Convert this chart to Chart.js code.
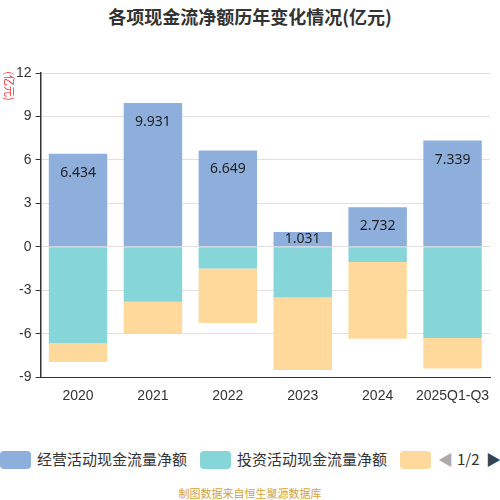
<!DOCTYPE html>
<html><head><meta charset="utf-8">
<script src="https://cdn.jsdelivr.net/npm/chart.js@4"></script>
<style>
body{margin:0;width:500px;height:500px;background:#fff;font-family:"Noto Sans CJK SC","Noto Sans",sans-serif;position:relative;overflow:hidden}
#wrap{position:absolute;left:0;top:0;width:500px;height:408px}
#title{position:absolute;top:3px;width:500px;text-align:center;font-size:18px;font-weight:bold;color:#333}
#legend{position:absolute;top:449px;left:0;width:500px;height:22px;font-size:15px;color:#333}
.sw{position:absolute;top:2px;width:31px;height:18px;border-radius:4px}
.lt{position:absolute;top:-1px;white-space:nowrap}
#src{position:absolute;top:485px;width:500px;text-align:center;font-size:11px;color:#d4a23a}
</style></head><body>
<div id="title">各项现金流净额历年变化情况(亿元)</div>
<div id="wrap"><canvas id="c" width="500" height="408"></canvas></div>
<div id="legend">
<div class="sw" style="left:0;background:#8eaedc"></div><div class="lt" style="left:37px">经营活动现金流量净额</div>
<div class="sw" style="left:200px;background:#86d5d8"></div><div class="lt" style="left:237px">投资活动现金流量净额</div>
<div class="sw" style="left:400px;background:#fed99b"></div>
<div class="lt" style="left:438px;color:#aaa">◀</div><div class="lt" style="left:457px">1/2</div><div class="lt" style="left:486px;color:#2f4554">▶</div>
</div>
<div id="src">制图数据来自恒生聚源数据库</div>
<script>
const categories=["2020","2021","2022","2023","2024","2025Q1-Q3"];
const operating=[6.434,9.931,6.649,1.031,2.732,7.339];
const investing=[-6.65,-3.8,-1.5,-3.5,-1.05,-6.3];
const financing=[-1.3,-2.2,-3.75,-5.0,-5.3,-2.1];
const yTicks=[-9,-6,-3,0,3,6,9,12];

const labelPlugin={id:'lbl',afterDatasetsDraw(ch){
  const ctx=ch.ctx;const meta=ch.getDatasetMeta(0);
  ctx.save();ctx.font='14px "Noto Sans","DejaVu Sans",sans-serif';ctx.fillStyle='#222';ctx.textAlign='center';ctx.textBaseline='middle';
  meta.data.forEach((b,i)=>{const top=b.y,base=b.base;const y=Math.min(top+19,(top+base)/2);ctx.fillText(operating[i].toFixed(3),b.x,y);});
  ctx.translate(9,86);ctx.rotate(Math.PI/2);ctx.fillStyle='#e33';ctx.font='11px "Noto Sans CJK SC",sans-serif';ctx.fillText('(亿元)',0,0);
  ctx.restore();
}};
new Chart(document.getElementById('c'),{
  type:'bar',
  data:{labels:categories,datasets:[
    {data:operating,backgroundColor:'#8eaedc',stack:'s'},
    {data:investing,backgroundColor:'#86d5d8',stack:'s'},
    {data:financing,backgroundColor:'#fed99b',stack:'s'}]},
  options:{responsive:false,animation:false,
    layout:{padding:{left:12,right:10,top:73,bottom:0}},
    datasets:{bar:{barPercentage:0.78,categoryPercentage:1}},
    plugins:{legend:{display:false},tooltip:{enabled:false}},
    scales:{
      x:{stacked:true,grid:{display:false},border:{color:'#333'},ticks:{color:'#333',font:{size:14},maxRotation:0,autoSkip:false}},
      y:{stacked:true,min:-9,max:12,afterBuildTicks(a){a.ticks=yTicks.map(v=>({value:v}));},
        grid:{color:'#e0e0e0',drawTicks:true,tickColor:'#333',tickLength:5},border:{color:'#333',width:1.5},
        ticks:{color:'#333',font:{size:14},padding:4}}
    }},
  plugins:[labelPlugin]
});
</script></body></html>
